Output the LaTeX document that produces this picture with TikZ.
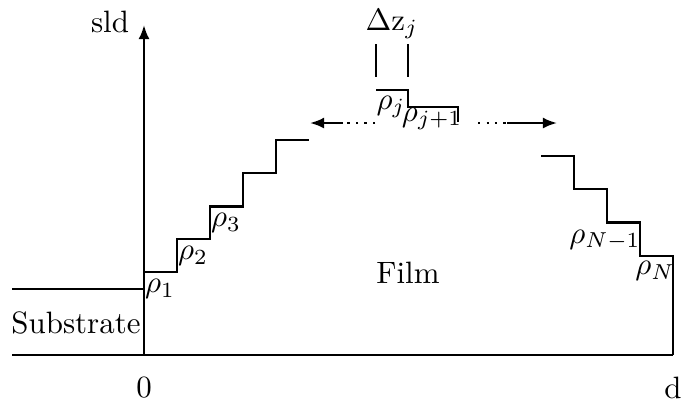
\documentclass[tikz,border=0pt]{standalone}
\usetikzlibrary{arrows.meta}
\begin{document}
\begin{tikzpicture}[x=0.3236pt,y=-0.3236pt,
  ln/.style={line width=0.75pt,line join=miter},
  tip/.style={-{Latex[length=4.6pt,width=3.6pt]}},
  dots/.style={line width=0.75pt,dash pattern=on 0.75pt off 2pt},
  lab/.style={inner sep=0pt,outer sep=0pt}]
\useasboundingbox (0,0) rectangle (683,405);
% key coordinates
\coordinate (bl) at (12,355);
\coordinate (br) at (673,355);
\coordinate (o) at (144,355);
\coordinate (top) at (144,25);
\coordinate (s0) at (12,289);
\coordinate (s1) at (144,289);
% axes and box
\draw[ln] (bl) -- (br);
\draw[ln,tip] (o) -- (top);
\draw[ln] (s0) -- (s1);
% left steps
\draw[ln] (144,272) -- (177,272) -- (177,239) -- (210,239) -- (210,206.5)
  -- (243,206.5) -- (243,173) -- (276,173) -- (276,140) -- (309,140);
% middle steps
\draw[ln] (376,90) -- (408,90) -- (408,107) -- (458,107) -- (458,122);
% right steps
\draw[ln] (541,156) -- (574,156) -- (574,189) -- (607,189) -- (607,222.5)
  -- (640,222.5) -- (640,256) -- (673,256) -- (br);
% delta z marks
\coordinate (m1a) at (376,44); \coordinate (m1b) at (376,77);
\coordinate (m2a) at (408,44); \coordinate (m2b) at (408,77);
\draw[ln] (m1a) -- (m1b);
\draw[ln] (m2a) -- (m2b);
% arrows
\coordinate (la) at (375,123); \coordinate (lm) at (343,123); \coordinate (lt) at (310,123);
\coordinate (ra) at (478,123); \coordinate (rm) at (507,123); \coordinate (rt) at (557,123);
\draw[dots] (la) -- (lm);
\draw[ln,tip] (lm) -- (lt);
\draw[dots] (ra) -- (rm);
\draw[ln,tip] (rm) -- (rt);
% labels
\node[lab] (sld) at (110,22) {sld};
\node[lab] (dz) at (392,24) {$\Delta \mathrm{z}_j$};
\node[lab] (rj) at (391,107) {$\rho_j$};
\node[lab] (rj1) at (432,119) {$\rho_{j+1}$};
\node[lab] (r1) at (160,289) {$\rho_1$};
\node[lab] (r2) at (193,256) {$\rho_2$};
\node[lab] (r3) at (226,223) {$\rho_3$};
\node[lab] (rn1) at (605,240) {$\rho_{N-1}$};
\node[lab] (rn) at (655,271) {$\rho_N$};
\node[lab] (film) at (408,273) {Film};
\node[lab] (sub) at (76,323) {Substrate};
\node[lab] (zero) at (144,388) {0};
\node[lab] (d) at (673,388) {d};
\end{tikzpicture}
\end{document}
